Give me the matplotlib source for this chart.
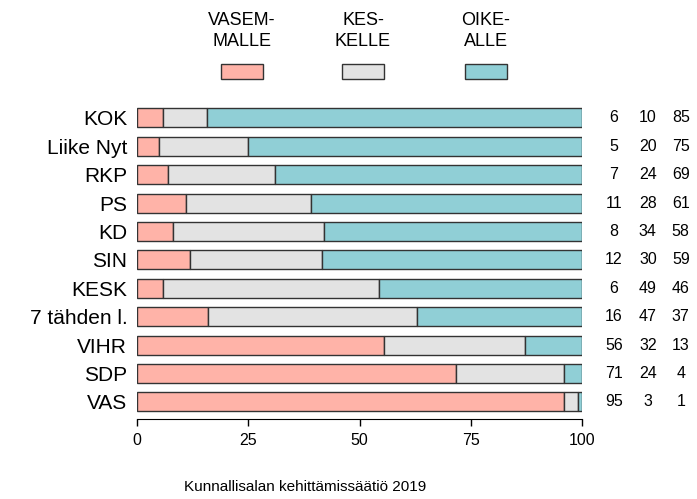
import numpy as np
import matplotlib
matplotlib.use("Agg")
import matplotlib.pyplot as plt
from matplotlib.patches import Rectangle

plt.rcParams['font.family'] = ['Liberation Sans', 'DejaVu Sans']

# data, top row first
parties = ["KOK", "Liike Nyt", "RKP", "PS", "KD", "SIN", "KESK",
           "7 tähden l.", "VIHR", "SDP", "VAS"]
left = [6, 5, 7, 11, 8, 12, 6, 16, 56, 71, 95]
centre = [10, 20, 24, 28, 34, 30, 49, 47, 32, 24, 3]
right = [85, 75, 69, 61, 58, 59, 46, 37, 13, 4, 1]
legend_labels = ["VASEM-\nMALLE", "KES-\nKELLE", "OIKE-\nALLE"]
colours = ["#FFB3A8", "#E3E3E3", "#90CFD6"]
caption = "Kunnallisalan kehittämissäätiö 2019"

fig = plt.figure(figsize=(6.97, 4.99), dpi=100)
ax = fig.add_axes([137/697, 0.1597, 445/697, 0.7924-0.1597])

vals = np.array([left, centre, right], dtype=float)
shares = vals / vals.sum(axis=0) * 100   # rounded numbers don't add to 100
y = np.arange(len(parties))[::-1]

start = np.zeros(len(parties))
for k in range(3):
    ax.barh(y, shares[k], left=start, height=0.67, color=colours[k],
            edgecolor="#333333", linewidth=1.0)
    start += shares[k]

# numbers on the right
for yi, a, b, c in zip(y, left, centre, right):
    for xpos, v in zip([107.2, 114.8, 122.2], [a, b, c]):
        ax.text(xpos, yi, str(v), ha="center", va="center", fontsize=11.5,
                clip_on=False)

ax.set_xlim(0, 100)
ax.set_ylim(-0.61, 10.5)
ax.set_yticks(y)
ax.set_yticklabels(parties, fontsize=15)
ax.tick_params(axis="y", length=0, pad=7)
ax.set_xticks([0, 25, 50, 75, 100])
ax.tick_params(axis="x", length=5, width=1, labelsize=11.5, pad=5)
for s in ["top", "right", "left"]:
    ax.spines[s].set_visible(False)
ax.spines["bottom"].set_bounds(0, 100)

# legend on top: text above a small box
for xc, lab, col in zip([242, 363, 486], legend_labels, colours):
    fig.text(xc/697, 0.937, lab, ha="center", va="center", fontsize=13,
             linespacing=1.3)
    fig.patches.append(Rectangle(((xc-21)/697, (499-79)/499), 42/697, 15/499,
                                 facecolor=col, edgecolor="#333333",
                                 linewidth=1.0, transform=fig.transFigure,
                                 figure=fig))

fig.text(305/697, 0.024, caption, ha="center", va="center", fontsize=11)

plt.savefig("out.png", dpi=100)
